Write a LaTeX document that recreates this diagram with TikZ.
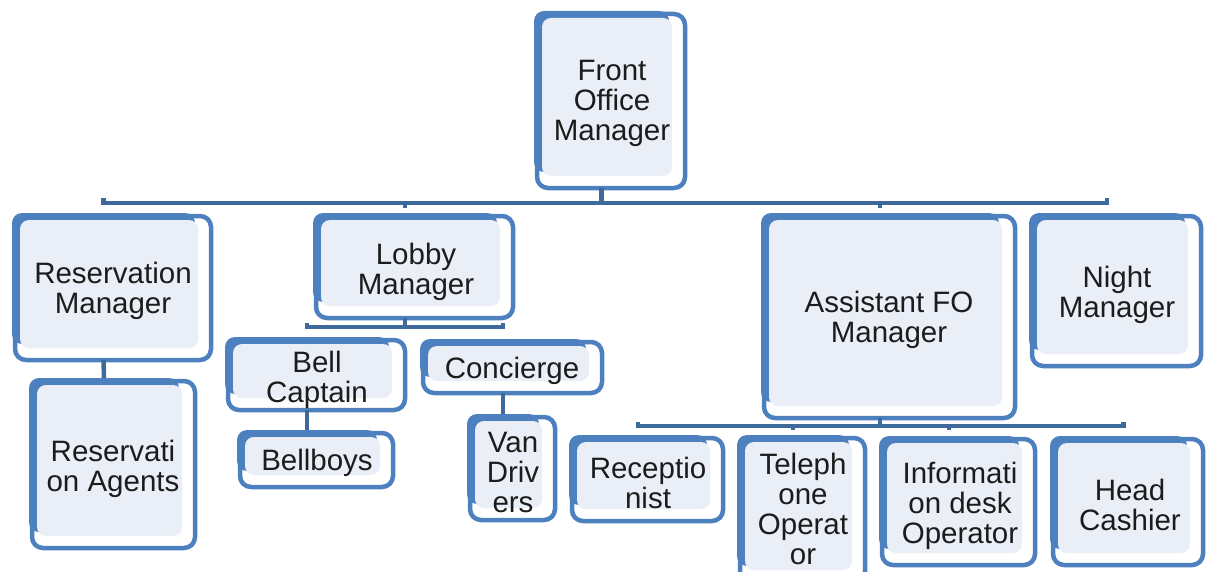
\documentclass[tikz,border=0pt]{standalone}
\usepackage{fontspec}
\setmainfont{Liberation Sans}
\definecolor{boxblue}{RGB}{76,128,190}
\definecolor{barblue}{RGB}{62,106,155}
\definecolor{boxfill}{RGB}{234,239,247}
\definecolor{txt}{RGB}{28,28,28}
\tikzset{
  backbox/.style={fill=boxblue, draw=none, rounded corners=10pt, inner sep=0pt, outer sep=0pt},
  outbox/.style={draw=boxblue, line width=4.5pt, fill=none, rounded corners=11pt, inner sep=0pt, outer sep=0pt},
  fillbox/.style={fill=boxfill, draw=none, rounded corners=9pt, inner sep=0pt, outer sep=0pt},
  lbl/.style={align=center, text=txt, inner sep=0pt, font=\fontsize{29.5}{30}\selectfont},
  bar/.style={draw=barblue, line width=4.5pt}
}
% #1 name, #2 L, #3 T, #4 R, #5 B (outline), #6 text x, #7 text y, #8 text
\newcommand\orgbox[8]{%
  \node[backbox, minimum width={#4-#2-13}, minimum height={#5-#3-13}] (#1B) at ({(#2+#4-19)/2},{(#3+#5-19)/2}) {};
  \node[outbox, minimum width={#4-#2}, minimum height={#5-#3}] (#1O) at ({(#2+#4)/2},{(#3+#5)/2}) {};
  \node[fillbox, minimum width={#4-#2-18}, minimum height={#5-#3-16}] (#1F) at ({(#2+#4-8)/2},{(#3+#5-8)/2}) {};
  \node[lbl] (#1) at (#6,{#7+3}) {#8};
}
\begin{document}
\begin{tikzpicture}[x=1pt,y=-1pt]
\useasboundingbox (0,0) rectangle (1206,572);
\fill[white] (0,0) rectangle (1206,572);
% boxes
\orgbox{fom}{537}{14}{685}{188}{612}{100}{Front\\Office\\Manager}
\orgbox{rm}{15}{216}{211}{360}{113}{288}{Reservation\\Manager}
\orgbox{lm}{316}{216}{513}{318}{416}{269}{Lobby\\Manager}
\orgbox{afom}{764}{216}{1015}{418}{889}{317}{Assistant FO\\Manager}
\orgbox{nm}{1032}{216}{1201}{366}{1117}{292}{Night\\Manager}
\orgbox{ra}{32}{381}{195}{548}{113}{466}{Reservati\\on Agents}
\orgbox{bc}{228}{340}{405}{410}{317}{377}{Bell\\Captain}
\orgbox{cc}{423}{342}{602}{393}{512}{368}{Concierge}
\orgbox{bb}{240}{433}{393}{487}{317}{460}{Bellboys}
\orgbox{vd}{470}{417}{555}{520}{513}{469}{Van\\Driv\\ers}
\orgbox{rc}{572}{438}{723}{521}{648}{480}{Receptio\\nist}
\orgbox{to}{740}{438}{865}{582}{803}{506}{Teleph\\one\\Operat\\or}
\orgbox{ido}{882}{439}{1035}{565}{960}{503}{Informati\\on desk\\Operator}
\orgbox{hc}{1053}{439}{1203}{565}{1130}{502}{Head\\Cashier}
% connectors
\coordinate (mainbar) at (0,203);
\coordinate (lobbybar) at (0,327);
\coordinate (afombar) at (0,426);
\draw[bar] (fomB.south |- fomO.south) -- (fomB.south |- mainbar);
\draw[bar] ([yshift=5pt]rmB.north |- mainbar) -- (rmB.north |- mainbar) -- (nmB.north |- mainbar) -- ([yshift=5pt]nmB.north |- mainbar);
\draw[bar] (lmB.north |- mainbar) -- ++(0,5);
\draw[bar] (afomB.north |- mainbar) -- ++(0,5);
\draw[bar] (lmB.south |- lmO.south) -- (lmB.south |- lobbybar);
\draw[bar] ([yshift=4pt]bcB.north |- lobbybar) -- (bcB.north |- lobbybar) -- (ccB.north |- lobbybar) -- ([yshift=4pt]ccB.north |- lobbybar);
\draw[bar] (afomB.south |- afomO.south) -- (afomB.south |- afombar);
\draw[bar] ([yshift=4pt]rcB.north |- afombar) -- (rcB.north |- afombar) -- ([xshift=5pt]hcB.north |- afombar) -- ([xshift=5pt,yshift=4pt]hcB.north |- afombar);
\draw[bar] (toB.north |- afombar) -- ++(0,4);
\draw[bar] (idoB.north |- afombar) -- ++(0,4);
\draw[bar] (rmB.south |- rmO.south) -- (raB.north);
\draw[bar] (bcB.south |- bcO.south) -- (bbB.north);
\draw[bar] (ccB.south |- ccO.south) -- (vdB.north);
\end{tikzpicture}
\end{document}
